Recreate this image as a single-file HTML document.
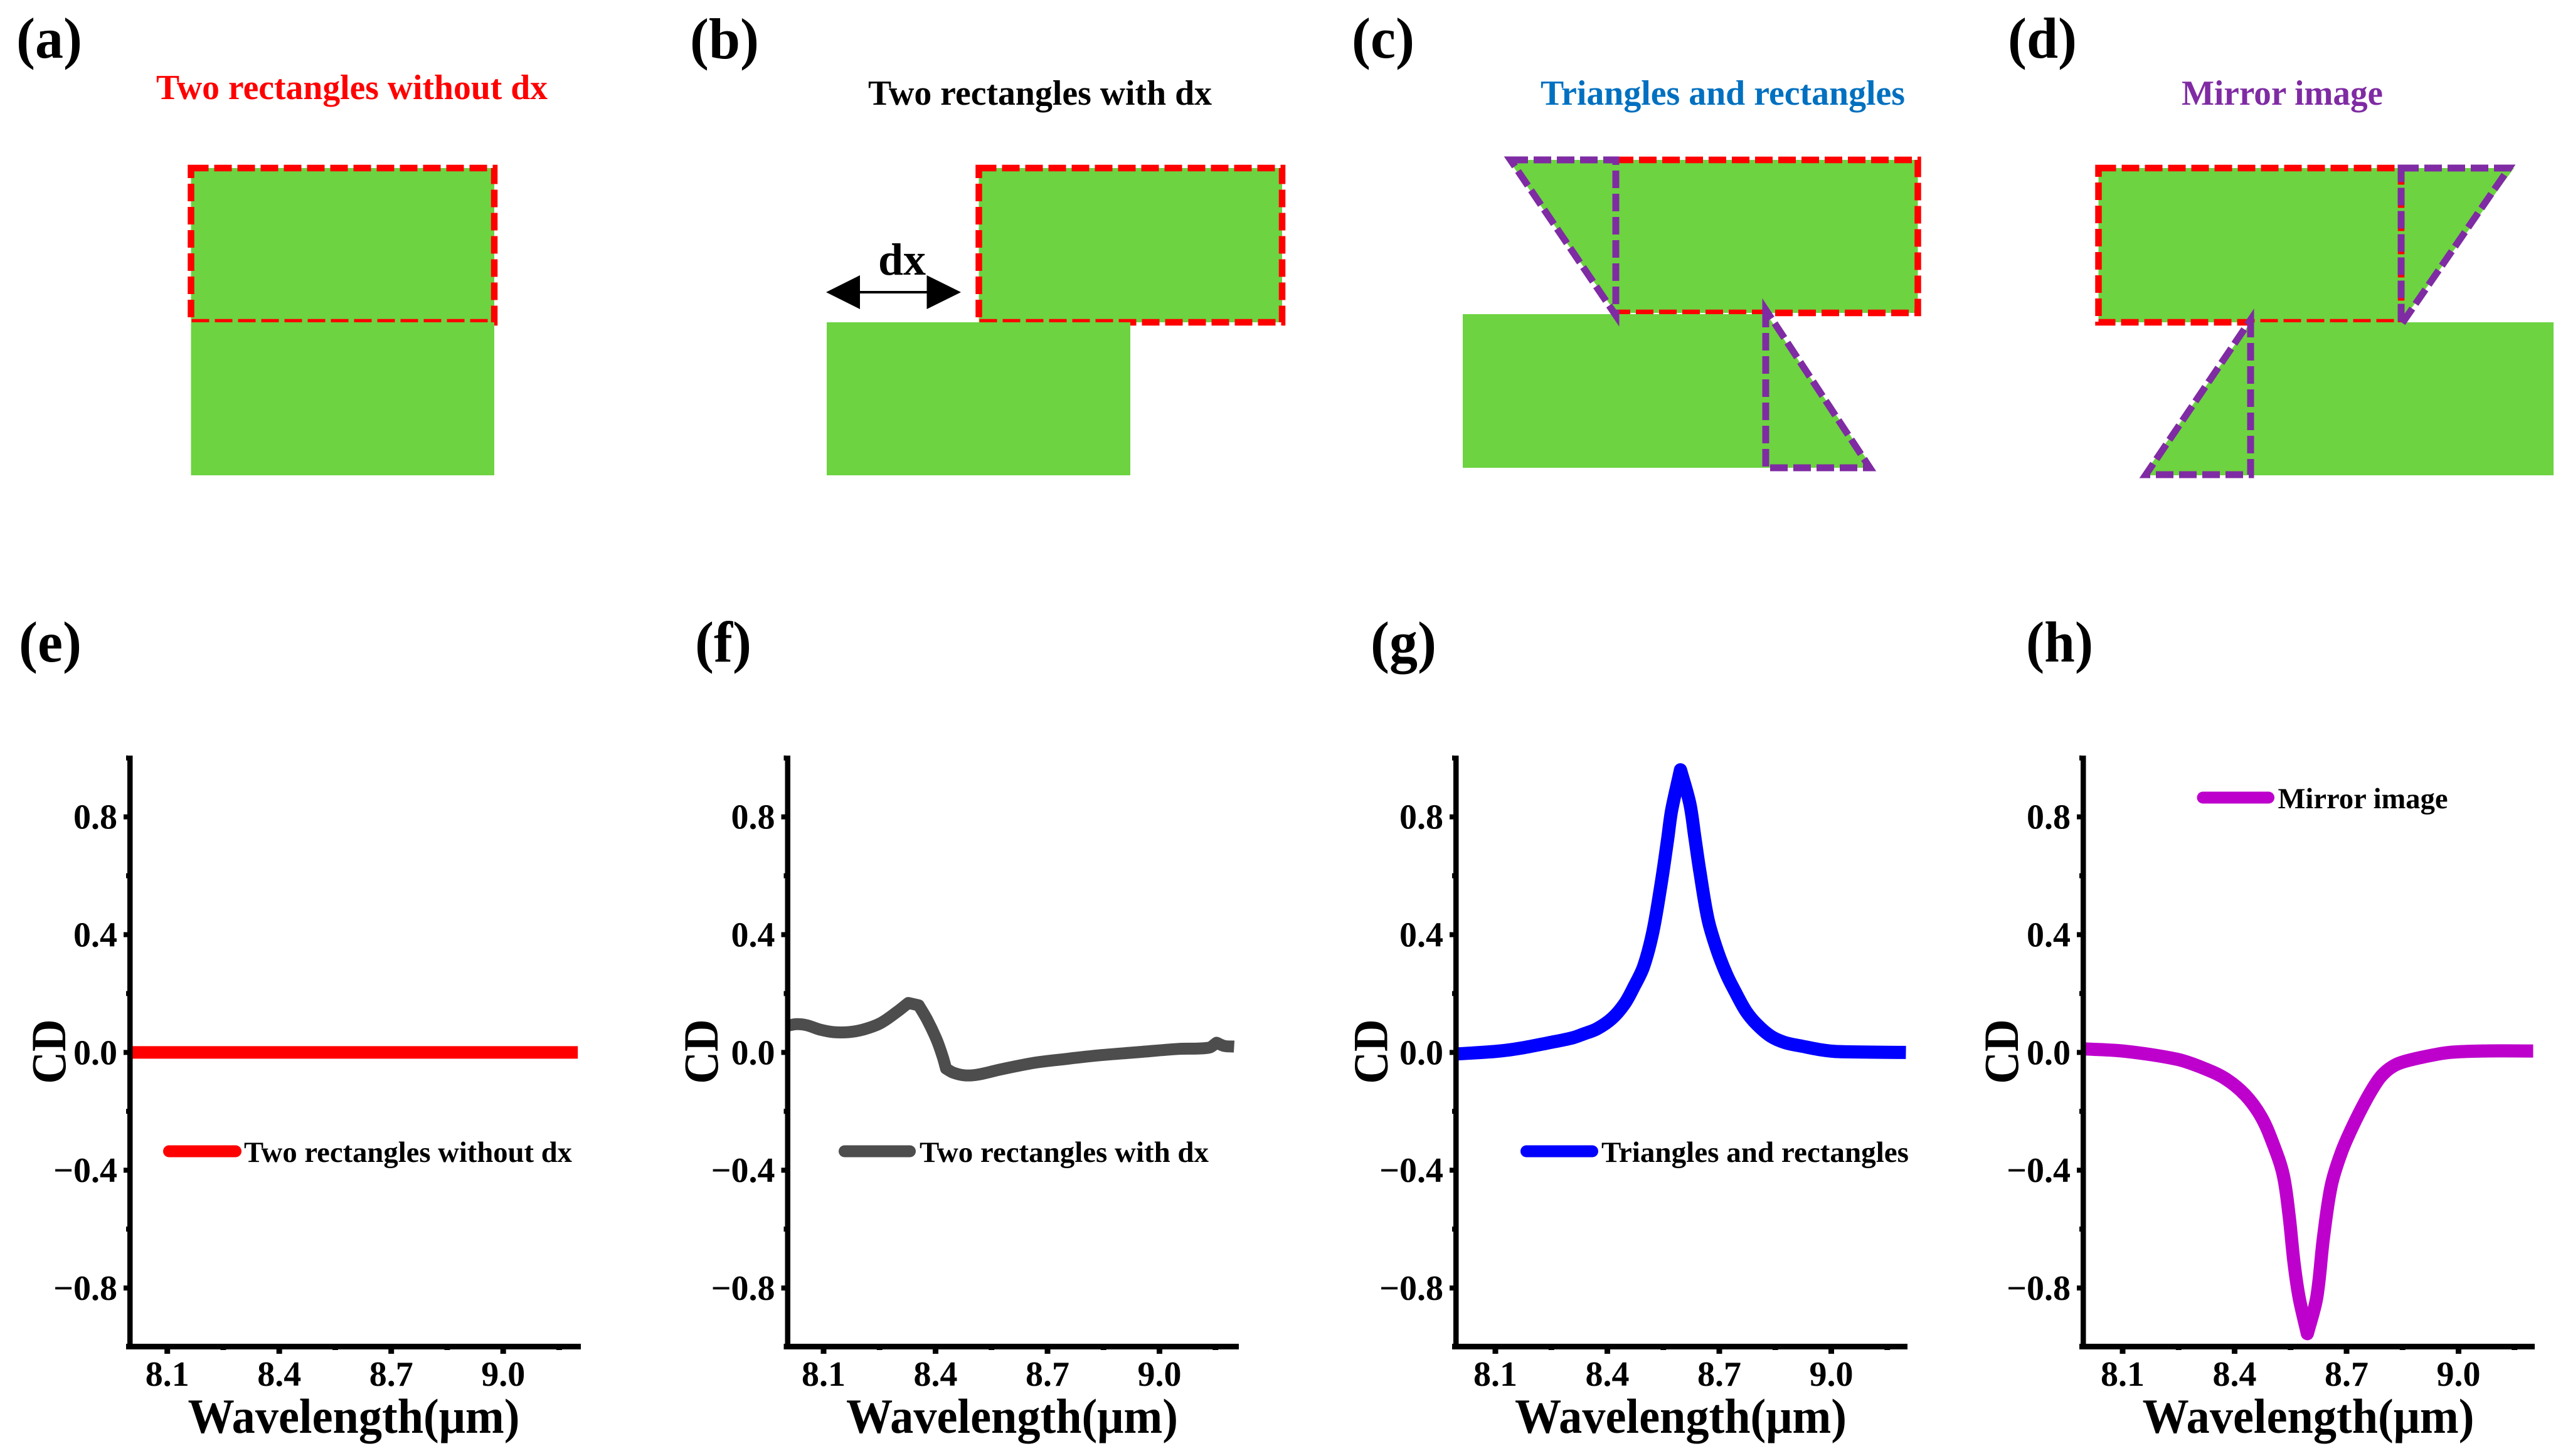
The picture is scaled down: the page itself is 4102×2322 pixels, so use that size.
<!DOCTYPE html>
<html lang="en">
<head>
<meta charset="utf-8">
<title>Circular dichroism of rectangle and triangle structures</title>
<style>
html,body{margin:0;padding:0;background:#fff;}
svg{display:block;}
text{font-family:"Liberation Serif",serif;font-weight:bold;fill:#000;}
</style>
</head>
<body>
<svg id="figure" xmlns="http://www.w3.org/2000/svg" width="4102" height="2322" viewBox="0 0 4102 2322">
  <rect x="0" y="0" width="4102" height="2322" fill="#ffffff"/>

  <g>
    <text x="26" y="92" font-size="92" textLength="105" lengthAdjust="spacingAndGlyphs">(a)</text>
    <text x="249" y="158" font-size="56" textLength="624" lengthAdjust="spacingAndGlyphs" style="fill:#ff0000">Two rectangles without dx</text>
    <rect x="304.5" y="268" width="483.5" height="246" fill="#6dd341"/>
    <rect x="304.5" y="268" width="483.5" height="246" fill="none" stroke="#ff0000" stroke-width="10.5" stroke-dasharray="28 9"/>
    <rect x="304.5" y="514" width="483.5" height="244" fill="#6dd341"/>
  </g>

  <g>
    <text x="1100" y="93" font-size="92" textLength="110" lengthAdjust="spacingAndGlyphs">(b)</text>
    <text x="1384" y="167" font-size="56" textLength="548" lengthAdjust="spacingAndGlyphs">Two rectangles with dx</text>
    <rect x="1560.5" y="268" width="483.5" height="246" fill="#6dd341"/>
    <rect x="1560.5" y="268" width="483.5" height="246" fill="none" stroke="#ff0000" stroke-width="10.5" stroke-dasharray="28 9"/>
    <rect x="1318" y="514" width="484" height="244" fill="#6dd341"/>
    <g>
      <rect x="1365" y="464" width="118" height="4" fill="#000"/>
      <polygon points="1317,466 1371,439 1371,493" fill="#000"/>
      <polygon points="1532,466 1477.5,439 1477.5,493" fill="#000"/>
    </g>
    <text x="1400" y="438" font-size="72" textLength="76" lengthAdjust="spacingAndGlyphs">dx</text>
  </g>

  <g>
    <text x="2155" y="92" font-size="92" textLength="100" lengthAdjust="spacingAndGlyphs">(c)</text>
    <text x="2456" y="167" font-size="56" textLength="581" lengthAdjust="spacingAndGlyphs" style="fill:#0070c0">Triangles and rectangles</text>
    <polygon points="2405,255 3057.5,255 3057.5,499 2576,499" fill="#6dd341"/>
    <rect x="2576" y="255" width="481.5" height="244" fill="none" stroke="#ff0000" stroke-width="10.5" stroke-dasharray="28 9"/>
    <polygon points="2332,501 2815,501 2815,499 2985.5,746 2332,746" fill="#6dd341"/>
    <polygon points="2408,255 2576,255 2576,503" fill="none" stroke="#7f2ba3" stroke-width="11" stroke-dasharray="28 9"/>
    <polygon points="2815,494 2815,746 2981,746" fill="none" stroke="#7f2ba3" stroke-width="11" stroke-dasharray="28 9"/>
  </g>

  <g>
    <text x="3201" y="92" font-size="92" textLength="110" lengthAdjust="spacingAndGlyphs">(d)</text>
    <text x="3478" y="167" font-size="56" textLength="321" lengthAdjust="spacingAndGlyphs" style="fill:#7f2ba3">Mirror image</text>
    <polygon points="3345.5,268 4008,268 3828,514 3345.5,514" fill="#6dd341"/>
    <rect x="3345.5" y="268" width="482.5" height="246" fill="none" stroke="#ff0000" stroke-width="10.5" stroke-dasharray="28 9"/>
    <polygon points="3588,514 4071,514 4071,758 3417,758" fill="#6dd341"/>
    <polygon points="3828,268 4000,268 3828,518" fill="none" stroke="#7f2ba3" stroke-width="11" stroke-dasharray="28 9"/>
    <polygon points="3588,510 3588,757 3421,757" fill="none" stroke="#7f2ba3" stroke-width="11" stroke-dasharray="28 9"/>
  </g>

  <g id="charts"></g>
</svg>

<script>
// Shared axis data
var yTickValues = [-0.8, -0.4, 0, 0.4, 0.8];
var yTickLabels = ["\u22120.8", "\u22120.4", "0.0", "0.4", "0.8"];
var yMinorValues = [-1, -0.6, -0.2, 0.2, 0.6, 1];
var xTickValues = [8.1, 8.4, 8.7, 9.0];
var xTickLabels = ["8.1", "8.4", "8.7", "9.0"];
var xMinorValues = [8.25, 8.55, 8.85, 9.15];

// Panel (e): two rectangles without dx
var wavelengthE = [8.0, 9.2];
var cdE = [0, 0];

// Panel (f): two rectangles with dx
var wavelengthF = [8.0, 8.028, 8.056, 8.089, 8.126, 8.168, 8.207, 8.252, 8.297, 8.327, 8.355, 8.378, 8.403, 8.42, 8.428, 8.448, 8.479, 8.515, 8.577, 8.666, 8.73, 8.837, 8.944, 9.05, 9.132, 9.153, 9.174, 9.2];
var cdF = [0.09, 0.096, 0.092, 0.078, 0.069, 0.069, 0.078, 0.099, 0.138, 0.168, 0.16, 0.11, 0.043, -0.018, -0.055, -0.069, -0.078, -0.075, -0.057, -0.035, -0.025, -0.01, 0.001, 0.012, 0.016, 0.033, 0.022, 0.02];

// Panel (g): triangles and rectangles
var wavelengthG = [8.0, 8.105, 8.17, 8.244, 8.308, 8.337, 8.372, 8.413, 8.446, 8.471, 8.497, 8.522, 8.544, 8.561, 8.572, 8.596, 8.621, 8.634, 8.648, 8.67, 8.695, 8.72, 8.743, 8.771, 8.8, 8.838, 8.877, 8.922, 8.967, 9.016, 9.2];
var cdG = [-0.005, 0.004, 0.015, 0.033, 0.05, 0.063, 0.08, 0.116, 0.165, 0.222, 0.291, 0.41, 0.572, 0.719, 0.82, 0.96, 0.845, 0.735, 0.613, 0.45, 0.344, 0.263, 0.205, 0.141, 0.096, 0.055, 0.033, 0.021, 0.01, 0.003, 0];

// Panel (h): mirror image
var wavelengthH = [8.0, 8.106, 8.245, 8.31, 8.374, 8.428, 8.471, 8.503, 8.53, 8.546, 8.559, 8.573, 8.595, 8.62, 8.638, 8.659, 8.686, 8.718, 8.756, 8.788, 8.815, 8.847, 8.911, 8.975, 9.072, 9.2];
var cdH = [0.012, 0.004, -0.023, -0.05, -0.088, -0.144, -0.218, -0.31, -0.414, -0.554, -0.712, -0.833, -0.955, -0.833, -0.63, -0.452, -0.34, -0.247, -0.153, -0.088, -0.055, -0.034, -0.014, 0, 0.005, 0.005];

var SVG_NS = "http://www.w3.org/2000/svg";
var chartsRoot = document.getElementById("charts");
var Y_ZERO = 1678.4, Y_SCALE = 469.6, X_SCALE = 595;

function sy(v) { return Y_ZERO - v * Y_SCALE; }

function make(parent, tag, attrs, content) {
  var node = document.createElementNS(SVG_NS, tag);
  for (var k in attrs) { node.setAttribute(k, attrs[k]); }
  if (content !== undefined) { node.textContent = content; }
  parent.appendChild(node);
  return node;
}

// Smooth path through the read values; sharp turns stay as true corners
function smoothPath(xs, ys, sx) {
  var pts = xs.map(function (x, i) { return [sx(x), sy(ys[i])]; });
  var last = pts.length - 1;
  var d = "M" + pts[0][0].toFixed(1) + " " + pts[0][1].toFixed(1);
  function unit(a, b) {
    var dx = b[0] - a[0], dy = b[1] - a[1], len = Math.sqrt(dx * dx + dy * dy) || 1;
    return [dx / len, dy / len];
  }
  function isCorner(i) {
    if (i === 0 || i === last) { return true; }
    var u = unit(pts[i - 1], pts[i]), v = unit(pts[i], pts[i + 1]);
    return (u[0] * v[0] + u[1] * v[1]) < 0.8;
  }
  for (var i = 0; i < last; i++) {
    var p = pts[i], q = pts[i + 1];
    var dir = unit(p, q);
    var seg = Math.sqrt(Math.pow(q[0] - p[0], 2) + Math.pow(q[1] - p[1], 2)), h = seg / 3;
    var t0 = isCorner(i) ? dir : unit(pts[i - 1], q);
    var t1 = isCorner(i + 1) ? dir : unit(p, pts[i + 2]);
    d += "C" + (p[0] + t0[0] * h).toFixed(1) + " " + (p[1] + t0[1] * h).toFixed(1) + " " +
         (q[0] - t1[0] * h).toFixed(1) + " " + (q[1] - t1[1] * h).toFixed(1) + " " +
         q[0].toFixed(1) + " " + q[1].toFixed(1);
  }
  return d;
}

function drawPanel(p) {
  function sx(v) { return p.tick81 + (v - 8.1) * X_SCALE; }

  var group = make(chartsRoot, "g", {});
  
  

  var panelLabel = make(group, "text", {x: p.labelX, y: 1055, "font-size": 92, textLength: p.labelW, lengthAdjust: "spacingAndGlyphs"}, "(" + p.id + ")");
  
  

  // series line
  var line = make(group, "path", {d: smoothPath(p.xs, p.ys, sx), fill: "none", stroke: p.color, "stroke-width": p.width, "stroke-linejoin": "round", "stroke-linecap": "butt"});
  
  

  // axes
  var yAxis = make(group, "rect", {x: p.axisX - 4, y: 1205, width: 8.5, height: 947, fill: "#000"});
  
  

  var xAxis = make(group, "rect", {x: p.axisX - 6, y: 2143, width: p.axisEnd - p.axisX + 6, height: 9, fill: "#000"});
  
  

  yTickValues.forEach(function (v, i) {
    var tick = make(group, "rect", {x: p.axisX - 10, y: sy(v) - 4, width: 7, height: 8, fill: "#000"});
    
    
    var lab = make(group, "text", {x: p.axisX - 20, y: sy(v) + 19, "font-size": 56, "text-anchor": "end"}, yTickLabels[i]);
    
    
  });
  yMinorValues.forEach(function (v) {
    var tick = make(group, "rect", {x: p.axisX - 6, y: sy(v) - 4, width: 3, height: 8, fill: "#000"});
    
    
  });
  xTickValues.forEach(function (v, i) {
    var tick = make(group, "rect", {x: sx(v) - 4.5, y: 2151, width: 9, height: 8, fill: "#000"});
    
    
    var lab = make(group, "text", {x: sx(v), y: 2210, "font-size": 56, "text-anchor": "middle"}, xTickLabels[i]);
    
    
  });
  xMinorValues.forEach(function (v) {
    var tick = make(group, "rect", {x: sx(v) - 4.5, y: 2151, width: 9, height: 2, fill: "#000"});
    
    
  });

  // axis titles
  var yTitle = make(group, "text", {x: 0, y: 0, "font-size": 78, "text-anchor": "middle", textLength: 103, lengthAdjust: "spacingAndGlyphs", transform: "translate(" + p.cdX + " 1677) rotate(-90)"}, "CD");
  
  

  var xTitle = make(group, "text", {x: p.xTitleX - 264.5, y: 2285, "font-size": 78, textLength: 529, lengthAdjust: "spacingAndGlyphs"}, "Wavelength(\u03bcm)");
  
  

  // legend
  var legendLine = make(group, "line", {x1: p.legX1 + 9.5, x2: p.legX2 - 9.5, y1: p.legY, y2: p.legY, stroke: p.color, "stroke-width": 19, "stroke-linecap": "round"});
  
  

  var legendText = make(group, "text", {x: p.legTextX, y: p.legY + 17, "font-size": 47, textLength: p.legTextW, lengthAdjust: "spacingAndGlyphs"}, p.legend);
  
  
}

drawPanel({id: "e", xs: wavelengthE, ys: cdE, color: "#ff0000", width: 20, tick81: 266.7, axisX: 207, axisEnd: 926, cdX: 104, xTitleX: 564, labelX: 30, labelW: 100, legend: "Two rectangles without dx", legX1: 260, legX2: 385, legY: 1836, legTextX: 389, legTextW: 523});
drawPanel({id: "f", xs: wavelengthF, ys: cdF, color: "#4d4d4d", width: 19, tick81: 1313, axisX: 1255.5, axisEnd: 1975, cdX: 1144, xTitleX: 1613.5, labelX: 1108, labelW: 90, legend: "Two rectangles with dx", legX1: 1337, legX2: 1460, legY: 1836, legTextX: 1466, legTextW: 461});
drawPanel({id: "g", xs: wavelengthG, ys: cdG, color: "#0000ff", width: 21, tick81: 2384, axisX: 2321, axisEnd: 3041, cdX: 2211.5, xTitleX: 2679.5, labelX: 2185, labelW: 105, legend: "Triangles and rectangles", legX1: 2424, legX2: 2548, legY: 1836, legTextX: 2553, legTextW: 490});
drawPanel({id: "h", xs: wavelengthH, ys: cdH, color: "#be00cd", width: 21, tick81: 3384, axisX: 3321, axisEnd: 4041, cdX: 3217, xTitleX: 3680, labelX: 3230, labelW: 107, legend: "Mirror image", legX1: 3502.5, legX2: 3626, legY: 1272, legTextX: 3631.5, legTextW: 271});
</script>
</body>
</html>
